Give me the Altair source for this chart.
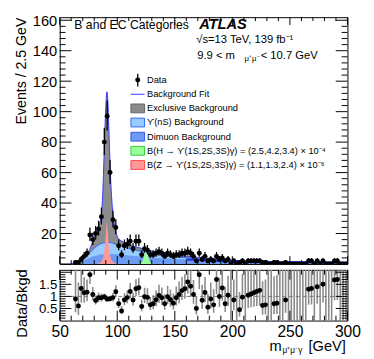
import math
import altair as alt
import pandas as pd

# ---------------- data ----------------
bin_centers = [61.25 + 2.5 * i for i in range(96)]

counts = [
    None, 1, 1, 3, 5, 7, 19, 16, 20, 23,
    31, 80, 97, 60, 29, 24, 12, 6, 12, 13,
    15, 10, 15, 15, 6, 10, 9, 6, 6, 7,
    8, 7, 5, 7, 6, 5, 6, 6, 7, 7,
    8, 7, 5, 2, 7, 3, 5, 2, 3, 2,
    5, 3, 4, 2, 3, 0, 2, 0, 1, 2,
    0, 2, 2, 2, 2, 2, 1, 1, 0, 0,
    1, 1, 0, 0, 1, 0, 0, 0, 0, 0,
    0, 0, 2, 2, 0, 2, 0, 2, 0, 0,
    0, 2, 2, 0, 0, 0,
]
ratios = [
    None, 0.89, 0.60, 1.33, 1.15, 1.17, 1.90, 1.08, 0.83, 0.94,
    0.94, 0.99, 0.88, 0.90, 0.95, 1.19, 0.70, 0.40, 0.85, 0.95,
    1.20, 0.85, 1.32, 1.36, 0.58, 0.99, 0.96, 0.65, 0.70, 0.86,
    1.04, 0.94, 0.70, 0.99, 0.86, 0.72, 0.94, 1.08, 1.24, 1.32,
    1.60, 1.42, 1.08, 0.50, 1.90, 0.84, 1.16, 0.55, 0.89, 0.65,
    1.70, 1.00, 1.35, 0.70, 1.05, None, 0.85, None, 0.45, 0.97,
    None, 1.05, 1.10, 1.15, 1.20, 1.25, 0.62, 0.65, None, None,
    0.70, 0.72, None, None, 0.85, None, None, None, None, None,
    None, None, 1.30, 1.33, None, 1.40, None, 1.50, None, None,
    None, 1.68, 1.70, None, None, None,
]

curve_m = [60, 62, 64, 66, 68, 70, 72, 74, 76, 78, 80, 82, 84, 85, 86, 87, 88, 89, 90, 91,
           92, 93, 94, 95, 96, 97, 98, 100, 102, 105, 110, 115, 120, 125, 130, 140, 150,
           160, 170, 180, 190, 200, 210, 220, 240, 260, 280, 300]
bkg_total = [0, 0.3, 0.9, 1.6, 2.3, 3.3, 4.6, 6.5, 9.5, 13.5, 18, 21.5, 25, 27.5, 31, 40, 58,
             82, 102, 113, 104, 82, 60, 45, 35, 28.5, 24.5, 18, 16, 14.5, 13, 11.5, 10.5, 9.5,
             8.5, 7, 6, 5.2, 4.3, 3.6, 3.0, 2.5, 2.1, 1.8, 1.55, 1.4, 1.3, 1.15]
bkg_upsilon = [0, 0.2, 0.7, 1.3, 2.0, 3.0, 4.2, 5.6, 7.2, 8.8, 10.3, 11.6, 12.6, 13.0, 13.4,
               13.6, 13.8, 14.0, 14.1, 14.2, 14.2, 14.1, 14.0, 13.9, 13.7, 13.5, 13.2, 12.5,
               12.0, 11.4, 10.3, 9.3, 8.4, 7.6, 6.8, 5.6, 4.7, 4.0, 3.4, 2.9, 2.45, 2.1, 1.8,
               1.55, 1.35, 1.22, 1.13, 1.0]
bkg_dimuon = [0, 0.15, 0.5, 0.9, 1.4, 2.0, 2.7, 3.4, 4.1, 4.7, 5.2, 5.6, 5.95, 6.1, 6.2, 6.3,
              6.4, 6.45, 6.5, 6.55, 6.55, 6.55, 6.5, 6.5, 6.45, 6.4, 6.35, 6.3, 6.2, 6.0, 5.6,
              5.2, 4.8, 4.5, 4.2, 3.7, 3.3, 2.9, 2.6, 2.3, 2.0, 1.75, 1.55, 1.35, 1.15, 1.05,
              0.97, 0.88]

z_sig_m = [82, 84, 86, 87, 88, 89, 90, 91, 92, 93, 94, 95, 96, 98, 100]
z_sig_y = [0, 0.5, 1.5, 2.8, 5, 9.5, 18, 27.5, 18, 9.5, 5, 2.8, 1.5, 0.5, 0]
h_sig_m = [119, 121, 122, 123, 124, 125, 126, 127, 128, 129, 131]
h_sig_y = [0, 0.8, 2.2, 4.5, 7.2, 9.4, 7.2, 4.5, 2.2, 0.8, 0]

main_y_labels = [20, 40, 60, 80, 100, 120, 140, 160]
ratio_y_labels = [0.5, 1, 1.5]
x_labels = [50, 100, 150, 200, 250, 300]

legend_labels = [
    "Data",
    "Background Fit",
    "Exclusive Background",
    "ϒ(nS) Background",
    "Dimuon Background",
    "B(H → ϒ(1S,2S,3S)γ) = (2.5,4.2,3.4) × 10⁻⁴",
    "B(Z → ϒ(1S,2S,3S)γ) = (1.1,1.3,2.4) × 10⁻⁶",
]

# ---------------- styling ----------------
FONT = "Liberation Sans"
W, HM, HR = 295, 253, 52
X_DOM, Y_DOM, R_DOM = [50, 300], [0, 162], [0, 2.1]
C_EXCL, C_EXCL_S = "#8c8c8c", "#666666"
C_UPS, C_UPS_S = "#99ccff", "#3366ff"
C_DIMU, C_DIMU_S = "#6b9cf2", "#3355ee"
C_H, C_H_S = "#99ff99", "#33cc33"
C_Z, C_Z_S = "#ff9999", "#ff4444"
C_FIT = "#3333ff"

xs = alt.Scale(domain=X_DOM, nice=False, zero=False)
ys = alt.Scale(domain=Y_DOM, nice=False, zero=False)
rs = alt.Scale(domain=R_DOM, nice=False, zero=False)

# ---------------- tables ----------------
curve_df = pd.DataFrame({"m": curve_m, "total": bkg_total, "ups": bkg_upsilon, "dimu": bkg_dimuon})
z_df = pd.DataFrame({"m": z_sig_m, "y": z_sig_y})
h_df = pd.DataFrame({"m": h_sig_m, "y": h_sig_y})

main_rows, ratio_rows, ratio_err = [], [], []
for c, n, r in zip(bin_centers, counts, ratios):
    if n is None:
        continue
    lo = max(n - math.sqrt(n + 0.25) + 0.5, 0.0) if n > 0 else 0.0
    hi = n + math.sqrt(n + 0.25) + 0.5
    main_rows.append({"m": c, "n": n, "lo": lo, "hi": hi})
    if n > 0 and r is not None:
        ratio_rows.append({"m": c, "r": r})
        ratio_err.append({"m": c, "lo": r * lo / n, "hi": min(r * hi / n, R_DOM[1])})
    else:
        ratio_err.append({"m": c, "lo": R_DOM[0], "hi": R_DOM[1]})
main_df = pd.DataFrame(main_rows)
ratio_df = pd.DataFrame(ratio_rows)
ratio_err_df = pd.DataFrame(ratio_err)
one = pd.DataFrame({"k": [0]})

main_y_axis = alt.Axis(values=main_y_labels, ticks=False, domain=False, grid=False,
                       labelOverlap=False, labelBound=False,
                       labelFont=FONT, labelFontSize=15, labelColor="black", labelPadding=3,
                       title="Events / 2.5 GeV", titleFont=FONT, titleFontSize=14.5,
                       titleFontWeight="normal", titleColor="black", titleAngle=270,
                       titleAlign="right", titleBaseline="middle", titleX=-39, titleY=0)
ratio_y_axis = alt.Axis(values=ratio_y_labels, labelExpr="'' + datum.value", ticks=False,
                        domain=False, grid=False, labelOverlap=False, labelBound=False,
                        labelFont=FONT, labelFontSize=13.5,
                        labelColor="black", labelPadding=3, title="Data/Bkgd", titleFont=FONT,
                        titleFontSize=15, titleFontWeight="normal", titleColor="black",
                        titleAngle=270, titleAlign="center", titleBaseline="middle",
                        titleX=-39, titleY=34)
ratio_x_axis = alt.Axis(values=x_labels, format="d", ticks=False, domain=False, grid=False,
                        labelFont=FONT, labelFontSize=16, labelColor="black", labelPadding=3,
                        labelFlush=False, labelOverlap=False, title=None)


def MX(field):
    return alt.X(field, scale=xs, axis=None)


def MY(field):
    return alt.Y(field, scale=ys, axis=main_y_axis)


def RX(field):
    return alt.X(field, scale=xs, axis=ratio_x_axis)


def RY(field):
    return alt.Y(field, scale=rs, axis=ratio_y_axis)


gray = alt.Chart(curve_df).mark_area(color=C_EXCL, interpolate="monotone").encode(
    x=MX("m:Q"), y=MY("total:Q"))
ups = alt.Chart(curve_df).mark_area(color=C_UPS, interpolate="monotone").encode(
    x=MX("m:Q"), y=MY("ups:Q"))
dimu = alt.Chart(curve_df).mark_area(color=C_DIMU, interpolate="monotone").encode(
    x=MX("m:Q"), y=MY("dimu:Q"))
ups_line = alt.Chart(curve_df).mark_line(color=C_UPS_S, strokeWidth=1, interpolate="monotone").encode(
    x=MX("m:Q"), y=MY("ups:Q"))
zsig = alt.Chart(z_df).mark_area(color=C_Z, interpolate="monotone").encode(
    x=MX("m:Q"), y=MY("y:Q"))
hsig = alt.Chart(h_df).mark_area(color=C_H, interpolate="linear").encode(
    x=MX("m:Q"), y=MY("y:Q"))
fit = alt.Chart(curve_df).mark_line(color=C_FIT, strokeWidth=1, interpolate="monotone").encode(
    x=MX("m:Q"), y=MY("total:Q"))
base_line = alt.Chart(curve_df).mark_line(color="#2233dd", strokeWidth=2).encode(
    x=MX("m:Q"), y=MY("dimu:Q")).transform_filter("datum.m >= 160")

err = alt.Chart(main_df).mark_rule(color="black", strokeWidth=1.3, clip=True).encode(
    x=MX("m:Q"), y=MY("lo:Q"), y2="hi:Q")
pts = alt.Chart(main_df).mark_point(filled=True, color="black", size=26, opacity=1, clip=True).encode(
    x=MX("m:Q"), y=MY("n:Q"))


# ticks (ROOT style, inside)
def tick_df(vals):
    return pd.DataFrame({"v": vals})


y_major = tick_df([0, 20, 40, 60, 80, 100, 120, 140, 160])
y_minor = tick_df([v for v in range(0, 162, 4) if v % 20 != 0])
x_major = tick_df([50, 100, 150, 200, 250, 300])
x_minor = tick_df([v for v in range(50, 301, 10) if v % 50 != 0])


def yticks(df, Yf, length):
    l = alt.Chart(df).mark_rule(color="black", strokeWidth=1).encode(
        y=Yf("v:Q"), x=alt.value(0), x2=alt.value(length))
    r = alt.Chart(df).mark_rule(color="black", strokeWidth=1).encode(
        y=Yf("v:Q"), x=alt.value(W - length), x2=alt.value(W))
    return [l, r]


def xticks(df, Xf, length, height):
    t = alt.Chart(df).mark_rule(color="black", strokeWidth=1).encode(
        x=Xf("v:Q"), y=alt.value(0), y2=alt.value(length))
    b = alt.Chart(df).mark_rule(color="black", strokeWidth=1).encode(
        x=Xf("v:Q"), y=alt.value(height - length), y2=alt.value(height))
    return [t, b]


main_ticks = (yticks(y_major, MY, 12) + yticks(y_minor, MY, 6)
              + xticks(x_major, MX, 8, HM) + xticks(x_minor, MX, 4, HM))


def txt(s, x, y, size=9.5, align="left", weight="normal", style="normal", baseline="middle"):
    return alt.Chart(one).mark_text(text=s, font=FONT, fontSize=size, align=align,
                                    baseline=baseline, fontWeight=weight, fontStyle=style,
                                    color="black").encode(x=alt.value(x), y=alt.value(y))


texts = [
    txt("B and EC Categories", 15, 8, size=12.5),
    txt("ATLAS", 143, 7, size=15, weight="bold", style="italic"),
    txt("√s=13 TeV, 139 fb⁻¹", 140, 23.5, size=11.5),
    txt("9.9 < m", 141, 39.5, size=11.5),
    txt("μ⁺μ⁻", 189.5, 43, size=8),
    txt("< 10.7 GeV", 206, 39.5, size=11.5),
]

# legend
LX_T, LX0, LX1 = 89.5, 73, 87
rows_y = [64.5 + 14.5 * i for i in range(len(legend_labels))]
leg = [txt(lbl, LX_T, yy, size=9.5) for lbl, yy in zip(legend_labels, rows_y)]
leg.append(alt.Chart(one).mark_point(filled=True, color="black", size=26, opacity=1).encode(
    x=alt.value(80), y=alt.value(rows_y[0])))
leg.append(alt.Chart(one).mark_rule(color="black", strokeWidth=1.3).encode(
    x=alt.value(80), y=alt.value(rows_y[0] - 6.5), y2=alt.value(rows_y[0] + 6.5)))
leg.append(alt.Chart(one).mark_rule(color=C_FIT, strokeWidth=1).encode(
    x=alt.value(LX0), x2=alt.value(LX1), y=alt.value(rows_y[1])))
for yy, fill, stroke in zip(rows_y[2:], [C_EXCL, C_UPS, C_DIMU, C_H, C_Z],
                            [C_EXCL_S, C_UPS_S, C_DIMU_S, C_H_S, C_Z_S]):
    leg.append(alt.Chart(one).mark_rect(fill=fill, stroke=stroke, strokeWidth=1).encode(
        x=alt.value(LX0), x2=alt.value(LX1), y=alt.value(yy - 4.5), y2=alt.value(yy + 4.5)))

main = alt.layer(gray, ups, dimu, ups_line, zsig, hsig, fit, base_line, err, pts,
                 *main_ticks, *texts, *leg).properties(width=W, height=HM)

# ---------------- ratio panel ----------------
r_y_major = tick_df([0.5, 1.0, 1.5, 2.0])
r_y_minor = tick_df([round(0.1 * i, 1) for i in range(1, 21) if i % 5 != 0])

unity = alt.Chart(pd.DataFrame({"v": [1.0]})).mark_rule(
    color="#777777", strokeDash=[4, 3], strokeWidth=1).encode(y=RY("v:Q"))
r_err = alt.Chart(ratio_err_df).mark_rule(color="#8a8a8a", strokeWidth=1.6, clip=True).encode(
    x=RX("m:Q"), y=RY("lo:Q"), y2="hi:Q")
r_pts = alt.Chart(ratio_df).mark_point(filled=True, color="black", size=26, opacity=1, clip=True).encode(
    x=RX("m:Q"), y=RY("r:Q"))

ratio_ticks = (yticks(r_y_major, RY, 12) + yticks(r_y_minor, RY, 6)
               + xticks(x_major, RX, 10, HR) + xticks(x_minor, RX, 5, HR))

xtitle = [
    txt("m", 215, 78, size=15),
    txt("μ⁺μ⁻γ", 228.5, 82.5, size=8.5),
    txt("[GeV]", 255, 78, size=15),
]

ratio = alt.layer(r_err, unity, r_pts, *ratio_ticks, *xtitle).properties(width=W, height=HR)

chart = alt.vconcat(main, ratio, spacing=0).properties(
    padding={"left": 5, "top": 0, "right": 5, "bottom": 0}, background="white"
).configure_view(stroke="black", strokeWidth=1)

chart.save("out.html", embed_options={"renderer": "svg", "actions": False})
